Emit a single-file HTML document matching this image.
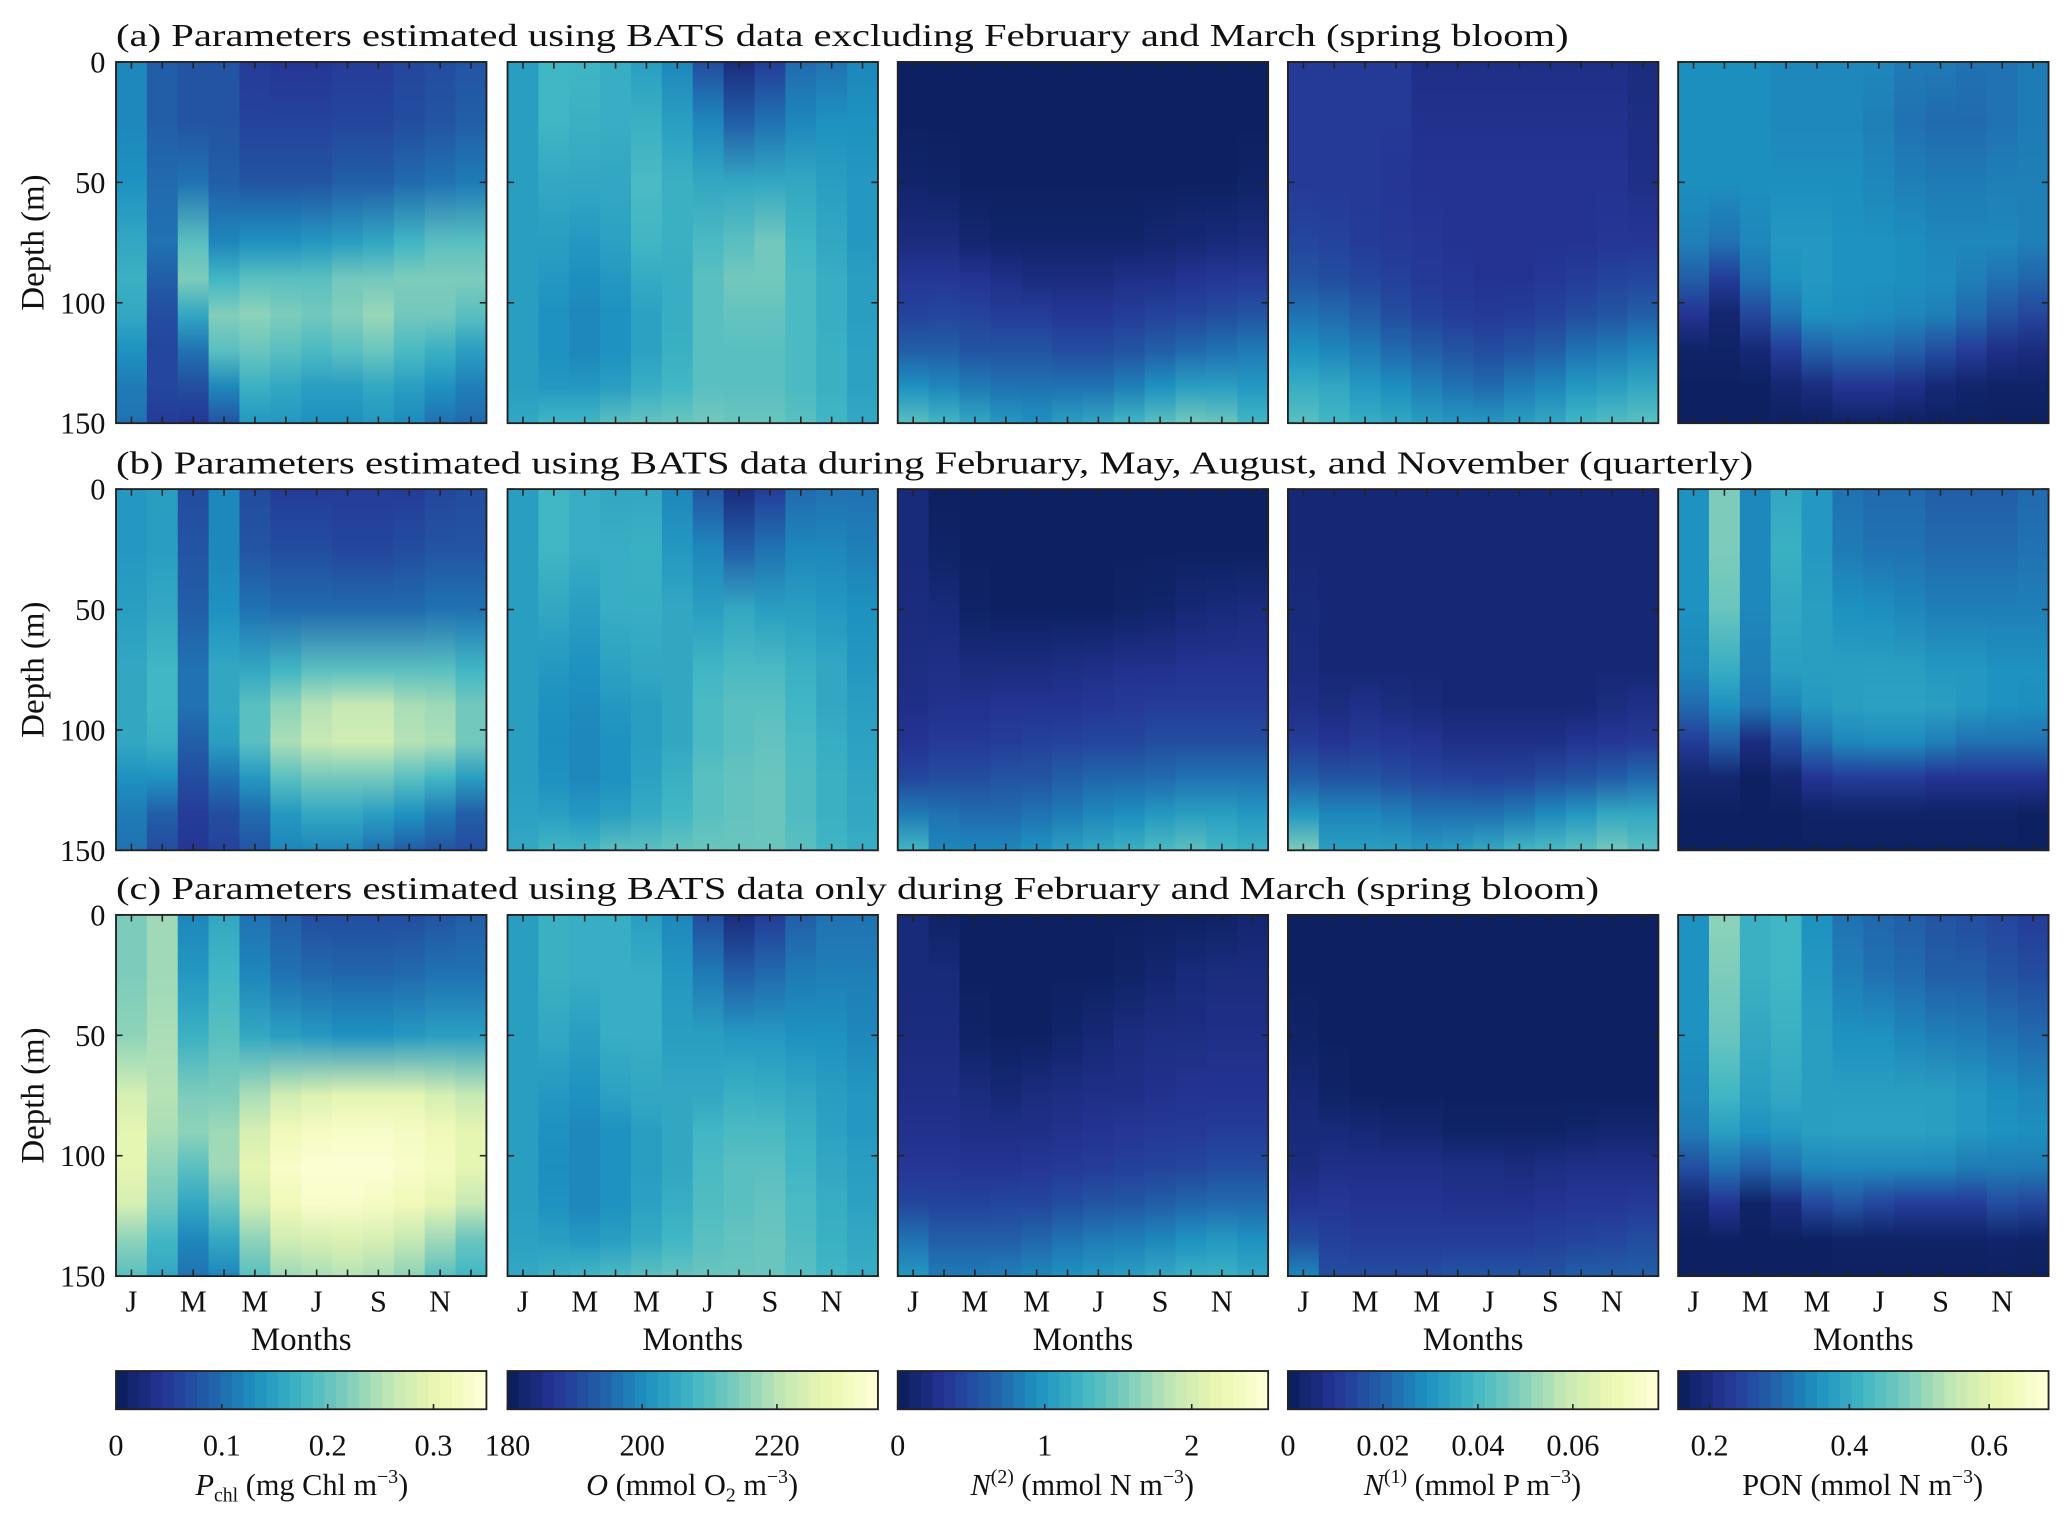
<!DOCTYPE html>
<html><head><meta charset="utf-8"><style>
html,body{margin:0;padding:0;background:#fff;}
svg{display:block;font-family:"Liberation Serif",serif;}
</style></head><body>
<svg id="fig" width="2067" height="1520" viewBox="0 0 1568 1153" preserveAspectRatio="none" xmlns="http://www.w3.org/2000/svg">
<defs id="defs"></defs>
<rect x="0" y="0" width="1568" height="1153" fill="#fff"/>
</svg>
<script>
// ---- data: normalized colour-scale position (0 = colorbar min, 1 = colorbar max) ----
const months = ['J','F','M','A','M','J','J','A','S','O','N','D'];
const monthTickLabels = ['J','','M','','M','','J','','S','','N',''];
const depths = [0,25,50,75,90,105,120,135,150];
const depthTicks = [0,50,100,150];

const pchlA = [
[.35,.25,.22,.22,.15,.13,.13,.15,.15,.18,.2,.22],
[.35,.25,.22,.22,.17,.17,.17,.18,.18,.2,.22,.25],
[.38,.28,.3,.25,.22,.22,.22,.25,.25,.28,.3,.32],
[.45,.3,.55,.35,.38,.38,.4,.42,.45,.5,.55,.55],
[.48,.25,.62,.5,.55,.55,.55,.6,.6,.62,.62,.62],
[.45,.2,.45,.63,.65,.62,.6,.63,.67,.6,.6,.55],
[.38,.18,.3,.55,.58,.55,.52,.55,.58,.52,.48,.42],
[.32,.18,.2,.35,.48,.45,.42,.42,.45,.42,.38,.33],
[.3,.15,.13,.22,.4,.4,.38,.38,.4,.36,.3,.28]];
const oxyA = [
[.42,.5,.5,.47,.42,.35,.2,.08,.15,.28,.3,.35],
[.42,.5,.48,.47,.48,.42,.35,.25,.3,.35,.38,.38],
[.42,.45,.45,.45,.52,.48,.45,.45,.45,.45,.42,.4],
[.42,.42,.4,.43,.5,.48,.52,.55,.6,.5,.45,.4],
[.42,.4,.37,.4,.46,.47,.55,.6,.6,.52,.47,.42],
[.42,.38,.35,.38,.43,.47,.55,.57,.57,.52,.47,.42],
[.42,.38,.35,.38,.43,.48,.55,.55,.55,.52,.48,.43],
[.42,.4,.4,.42,.47,.5,.55,.55,.55,.52,.48,.43],
[.45,.5,.5,.55,.57,.58,.6,.58,.58,.55,.5,.45]];
const nitA = [
[.02,.02,.02,.02,.02,.02,.02,.02,.02,.02,.02,.02],
[.02,.02,.02,.02,.02,.02,.02,.02,.02,.02,.02,.02],
[.04,.03,.02,.02,.02,.02,.02,.02,.02,.02,.02,.03],
[.08,.08,.05,.04,.04,.04,.04,.04,.05,.06,.07,.08],
[.13,.13,.12,.1,.08,.08,.08,.1,.1,.12,.13,.14],
[.17,.18,.17,.15,.15,.13,.13,.15,.17,.18,.2,.22],
[.25,.25,.22,.22,.22,.2,.2,.22,.25,.28,.3,.32],
[.38,.35,.32,.3,.3,.3,.3,.33,.38,.42,.42,.4],
[.55,.5,.45,.4,.38,.42,.45,.5,.55,.6,.58,.5]];
const phosA = [
[.14,.14,.14,.14,.1,.1,.1,.1,.1,.1,.1,.08],
[.14,.14,.14,.14,.11,.11,.11,.11,.11,.11,.11,.09],
[.14,.14,.14,.13,.12,.12,.12,.12,.12,.12,.12,.1],
[.18,.17,.15,.14,.13,.12,.12,.12,.12,.12,.13,.13],
[.22,.2,.18,.16,.14,.13,.12,.12,.13,.15,.17,.18],
[.3,.28,.25,.2,.17,.15,.14,.15,.17,.2,.22,.25],
[.38,.35,.32,.28,.25,.22,.2,.22,.25,.3,.32,.35],
[.47,.45,.4,.37,.33,.3,.28,.32,.35,.4,.42,.45],
[.55,.5,.47,.45,.42,.4,.4,.42,.45,.5,.53,.55]];
const ponA = [
[.37,.37,.37,.35,.35,.35,.35,.32,.32,.3,.3,.32],
[.37,.37,.37,.35,.35,.35,.33,.3,.28,.28,.3,.32],
[.37,.37,.37,.37,.37,.37,.35,.33,.32,.32,.33,.33],
[.33,.3,.35,.4,.4,.38,.38,.37,.35,.35,.35,.33],
[.25,.15,.3,.38,.4,.38,.38,.37,.36,.33,.3,.27],
[.12,.05,.18,.3,.38,.37,.36,.35,.33,.28,.22,.18],
[.03,.03,.06,.15,.25,.28,.28,.25,.2,.15,.1,.08],
[.02,.02,.02,.05,.08,.12,.12,.1,.06,.04,.03,.03],
[.02,.02,.02,.02,.02,.03,.03,.02,.02,.02,.02,.02]];

const pchlB = [
[.4,.42,.2,.35,.2,.15,.15,.15,.15,.15,.18,.2],
[.4,.42,.22,.35,.22,.2,.2,.18,.18,.2,.22,.22],
[.42,.45,.25,.38,.3,.28,.28,.28,.28,.28,.3,.3],
[.45,.5,.3,.45,.45,.5,.55,.55,.55,.55,.55,.5],
[.45,.5,.3,.45,.55,.65,.72,.75,.75,.7,.68,.6],
[.45,.48,.25,.42,.55,.7,.75,.78,.78,.72,.7,.6],
[.38,.38,.2,.3,.4,.55,.6,.6,.6,.55,.5,.42],
[.32,.25,.15,.2,.28,.4,.45,.45,.42,.38,.32,.25],
[.3,.2,.13,.17,.22,.35,.35,.35,.3,.25,.22,.2]];
const oxyB = [
[.42,.5,.47,.45,.45,.35,.22,.08,.15,.28,.3,.3],
[.42,.5,.47,.47,.48,.4,.35,.25,.3,.35,.35,.33],
[.42,.45,.42,.47,.47,.45,.42,.45,.42,.42,.4,.38],
[.42,.4,.38,.43,.45,.45,.5,.52,.52,.48,.45,.4],
[.42,.38,.36,.4,.42,.45,.52,.55,.55,.5,.45,.42],
[.42,.37,.35,.38,.42,.45,.52,.55,.57,.52,.47,.43],
[.42,.38,.35,.38,.43,.48,.55,.57,.58,.53,.48,.44],
[.43,.42,.4,.42,.46,.5,.55,.57,.58,.53,.48,.45],
[.45,.5,.5,.55,.55,.57,.58,.58,.58,.55,.5,.47]];
const nitB = [
[.07,.02,.02,.02,.02,.02,.02,.02,.02,.02,.02,.02],
[.07,.03,.02,.02,.02,.02,.02,.02,.02,.02,.02,.02],
[.08,.07,.03,.02,.02,.02,.02,.03,.04,.06,.07,.08],
[.09,.1,.08,.08,.08,.09,.1,.11,.11,.12,.12,.12],
[.1,.11,.11,.12,.12,.12,.13,.14,.15,.15,.15,.15],
[.12,.14,.14,.15,.16,.17,.18,.18,.2,.2,.2,.2],
[.18,.2,.2,.22,.22,.25,.27,.27,.28,.3,.3,.3],
[.32,.3,.28,.28,.3,.32,.35,.37,.4,.42,.42,.4],
[.5,.35,.35,.35,.38,.42,.45,.48,.52,.55,.5,.48]];
const phosB = [
[.06,.06,.06,.06,.06,.06,.06,.06,.06,.06,.06,.06],
[.06,.06,.06,.06,.06,.06,.06,.06,.06,.06,.06,.06],
[.07,.06,.06,.06,.06,.06,.06,.06,.06,.06,.06,.06],
[.08,.06,.06,.06,.06,.06,.06,.06,.06,.06,.06,.06],
[.1,.08,.1,.08,.07,.06,.06,.06,.06,.06,.08,.1],
[.15,.12,.14,.13,.12,.1,.1,.1,.1,.12,.13,.14],
[.25,.22,.22,.2,.18,.17,.16,.17,.2,.22,.25,.28],
[.4,.35,.35,.33,.3,.3,.3,.32,.36,.4,.45,.45],
[.62,.42,.42,.42,.4,.42,.45,.5,.52,.55,.6,.55]];
const ponB = [
[.38,.62,.35,.45,.4,.3,.28,.28,.25,.25,.25,.28],
[.38,.62,.35,.48,.4,.32,.3,.3,.28,.28,.28,.3],
[.38,.58,.35,.45,.42,.38,.37,.35,.33,.33,.33,.33],
[.35,.47,.33,.42,.42,.42,.42,.42,.4,.4,.38,.38],
[.28,.38,.3,.35,.4,.42,.43,.43,.42,.4,.38,.37],
[.15,.25,.08,.2,.3,.35,.36,.36,.33,.3,.3,.3],
[.05,.05,.02,.05,.12,.15,.15,.15,.12,.12,.12,.12],
[.02,.02,.02,.02,.03,.03,.03,.03,.03,.03,.03,.02],
[.02,.02,.02,.02,.02,.02,.02,.02,.02,.02,.02,.02]];

const pchlC = [
[.62,.68,.35,.45,.3,.25,.2,.2,.2,.2,.22,.25],
[.62,.68,.4,.5,.35,.3,.28,.27,.27,.28,.3,.3],
[.65,.7,.48,.55,.45,.42,.4,.38,.38,.4,.42,.42],
[.8,.72,.62,.62,.7,.78,.82,.85,.85,.85,.8,.75],
[.85,.7,.65,.68,.8,.9,.93,.95,.95,.93,.9,.85],
[.85,.65,.55,.68,.85,.95,.98,.98,.98,.95,.92,.85],
[.8,.6,.45,.58,.78,.9,.95,.95,.93,.9,.85,.75],
[.65,.5,.35,.45,.65,.78,.8,.82,.8,.75,.68,.58],
[.55,.45,.3,.35,.55,.68,.7,.72,.7,.65,.55,.5]];
const oxyC = [
[.42,.48,.47,.47,.42,.35,.2,.08,.15,.25,.3,.3],
[.42,.48,.47,.47,.47,.4,.32,.25,.28,.32,.33,.33],
[.42,.45,.42,.47,.47,.42,.42,.4,.4,.38,.38,.35],
[.42,.4,.38,.43,.45,.45,.45,.48,.47,.45,.42,.4],
[.42,.38,.35,.38,.42,.45,.5,.52,.52,.48,.43,.4],
[.42,.37,.35,.38,.42,.45,.52,.55,.55,.5,.45,.42],
[.42,.38,.35,.38,.43,.47,.53,.55,.57,.52,.47,.43],
[.43,.42,.4,.42,.46,.5,.55,.57,.58,.53,.48,.45],
[.45,.48,.5,.52,.55,.57,.58,.58,.58,.55,.5,.47]];
const nitC = [
[.07,.03,.02,.02,.02,.02,.02,.02,.02,.02,.03,.05],
[.07,.07,.02,.02,.02,.02,.02,.03,.05,.07,.08,.08],
[.08,.08,.03,.02,.02,.04,.06,.08,.09,.09,.1,.1],
[.1,.1,.08,.06,.08,.09,.1,.1,.11,.12,.12,.12],
[.11,.11,.1,.1,.1,.11,.12,.13,.14,.14,.15,.15],
[.13,.13,.12,.12,.13,.14,.15,.16,.17,.18,.2,.2],
[.18,.17,.17,.18,.18,.2,.22,.23,.25,.27,.28,.28],
[.3,.25,.25,.25,.27,.3,.32,.33,.35,.38,.4,.38],
[.4,.32,.32,.33,.35,.38,.4,.42,.45,.48,.48,.45]];
const phosC = [
[.02,.02,.02,.02,.02,.02,.02,.02,.02,.02,.02,.02],
[.02,.02,.02,.02,.02,.02,.02,.02,.02,.02,.02,.02],
[.03,.02,.02,.02,.02,.02,.02,.02,.02,.02,.02,.02],
[.06,.03,.02,.02,.02,.02,.02,.02,.02,.02,.02,.02],
[.07,.07,.06,.05,.05,.03,.03,.03,.03,.04,.05,.05],
[.08,.1,.1,.1,.1,.09,.09,.08,.09,.1,.1,.1],
[.12,.13,.12,.12,.12,.11,.11,.11,.12,.13,.13,.14],
[.2,.16,.15,.15,.15,.15,.15,.15,.16,.17,.18,.2],
[.35,.2,.2,.2,.2,.22,.22,.22,.22,.25,.25,.25]];
const ponC = [
[.38,.65,.48,.5,.38,.3,.27,.25,.22,.2,.18,.15],
[.38,.62,.48,.5,.4,.33,.3,.28,.25,.25,.22,.2],
[.38,.58,.45,.48,.42,.38,.38,.35,.33,.32,.3,.28],
[.35,.5,.42,.45,.42,.42,.42,.42,.42,.4,.37,.35],
[.32,.42,.38,.4,.42,.43,.43,.43,.42,.4,.38,.37],
[.2,.3,.25,.3,.35,.35,.35,.35,.35,.32,.32,.32],
[.05,.12,.03,.08,.18,.22,.18,.15,.15,.15,.2,.18],
[.02,.02,.02,.02,.02,.03,.03,.03,.03,.03,.04,.03],
[.02,.02,.02,.02,.02,.02,.02,.02,.02,.02,.02,.02]];

// colorbar domains and ticks
const cbMin = [0, 180, 0, 0, 0.155];
const cbMax = [0.35, 235, 2.52, 0.078, 0.685];
const cbTicks = [[0,0.1,0.2,0.3],[180,200,220],[0,1,2],[0,0.02,0.04,0.06],[0.2,0.4,0.6]];
const cbTickLabels = [['0','0.1','0.2','0.3'],['180','200','220'],['0','1','2'],['0','0.02','0.04','0.06'],['0.2','0.4','0.6']];

const rowTitles = [
 '(a) Parameters estimated using BATS data excluding February and March (spring bloom)',
 '(b) Parameters estimated using BATS data during February, May, August, and November (quarterly)',
 '(c) Parameters estimated using BATS data only during February and March (spring bloom)'];
const grid = [[pchlA,oxyA,nitA,phosA,ponA],[pchlB,oxyB,nitB,phosB,ponB],[pchlC,oxyC,nitC,phosC,ponC]];
const varKeys = ['pchl','oxygen','nitrate','phosphate','pon'];

// ---- layout ----
const colX = [88,385,681,977,1273];
const PW = 281, PH = 274;
const rowY = [47,371,694];
const titleW = [1102,1242,1125];
const cmap = ['#081d58','#253494','#225ea8','#1d91c0','#41b6c4','#7fcdbb','#c7e9b4','#edf8b1','#ffffd9'];

const NS='http://www.w3.org/2000/svg';
const svg=document.getElementById('fig');
const defs=document.getElementById('defs');
function mk(tag,attrs,parent){const e=document.createElementNS(NS,tag);for(const k in attrs)e.setAttribute(k,attrs[k]);(parent||svg).appendChild(e);return e;}
function hex(h){return [parseInt(h.slice(1,3),16),parseInt(h.slice(3,5),16),parseInt(h.slice(5,7),16)];}
function color(t){t=Math.max(0,Math.min(1,t));const p=t*(cmap.length-1);const i=Math.min(cmap.length-2,Math.floor(p));const f=p-i;const a=hex(cmap[i]),b=hex(cmap[i+1]);return 'rgb('+a.map((v,k)=>Math.round(v+(b[k]-v)*f)).join(',')+')';}
function xScale(c,m){return colX[c]+(m+0.5)*PW/12;}
function yScale(r,d){return rowY[r]+d/150*PH;}

const axisFont='font-size:23px;fill:#111;';
for(let r=0;r<3;r++){
  const t=mk('text',{x:88,y:rowY[r]-12,textLength:titleW[r],lengthAdjust:'spacingAndGlyphs',style:'font-size:24px;fill:#111;'});
  t.textContent=rowTitles[r];
  
  
  for(let c=0;c<5;c++){
    const data=grid[r][c];
    const g=mk('g',{});
    
    
    for(let m=0;m<12;m++){
      const id='gr'+r+'_'+c+'_'+m;
      const lg=mk('linearGradient',{id:id,x1:0,y1:0,x2:0,y2:1},defs);
      for(let k=0;k<depths.length;k++){
        mk('stop',{offset:depths[k]/150,'stop-color':color(data[k][m])},lg);
      }
      const x0=colX[c]+m*PW/12;
      const cell=mk('rect',{x:x0,y:rowY[r],width:PW/12+0.6,height:PH,fill:'url(#'+id+')'},g);
      
      
    }
    const fr=mk('rect',{x:colX[c],y:rowY[r],width:PW,height:PH,fill:'none',stroke:'#222','stroke-width':1.4},g);
    
    
    for(let m=0;m<12;m++){
      const x=xScale(c,m);
      mk('line',{x1:x,x2:x,y1:rowY[r],y2:rowY[r]+5,stroke:'#222','stroke-width':1.2},g);
      mk('line',{x1:x,x2:x,y1:rowY[r]+PH,y2:rowY[r]+PH-5,stroke:'#222','stroke-width':1.2},g);
    }
    for(const d of depthTicks){
      const y=yScale(r,d);
      mk('line',{x1:colX[c],x2:colX[c]+5,y1:y,y2:y,stroke:'#222','stroke-width':1.2},g);
      mk('line',{x1:colX[c]+PW,x2:colX[c]+PW-5,y1:y,y2:y,stroke:'#222','stroke-width':1.2},g);
    }
    if(r===2){
      for(let m=0;m<12;m++){
        if(!monthTickLabels[m])continue;
        const tl=mk('text',{x:xScale(c,m),y:995,'text-anchor':'middle',style:axisFont});
        tl.textContent=monthTickLabels[m];
        
        
      }
      const xt=mk('text',{x:colX[c]+PW/2,y:1024,'text-anchor':'middle',style:'font-size:25px;fill:#111;'});
      xt.textContent='Months';
      
      
    }
  }
  for(const d of depthTicks){
    const yl=mk('text',{x:80,y:yScale(r,d)+8,'text-anchor':'end',style:axisFont});
    yl.textContent=String(d);
    
    
  }
  const yt=mk('text',{x:0,y:0,'text-anchor':'middle',transform:'translate(33,'+(rowY[r]+PH/2)+') rotate(-90)',style:'font-size:25px;fill:#111;'});
  yt.textContent='Depth (m)';
  
  
}

// colorbars
const cbY=1040, cbH=29, steps=32;
for(let c=0;c<5;c++){
  const g=mk('g',{});
  
  
  for(let s=0;s<steps;s++){
    mk('rect',{x:colX[c]+s*PW/steps,y:cbY,width:PW/steps+0.6,height:cbH,fill:color((s+0.5)/steps)},g);
  }
  mk('rect',{x:colX[c],y:cbY,width:PW,height:cbH,fill:'none',stroke:'#222','stroke-width':1.4},g);
  cbTicks[c].forEach((v,i)=>{
    const x=colX[c]+(v-cbMin[c])/(cbMax[c]-cbMin[c])*PW;
    mk('line',{x1:x,x2:x,y1:cbY+cbH,y2:cbY+cbH-4,stroke:'#222','stroke-width':1.2},g);
    const tl=mk('text',{x:x,y:1104,'text-anchor':'middle',style:axisFont});
    tl.textContent=cbTickLabels[c][i];
    
    
  });
}
</script>
<svg width="2067" height="1520" viewBox="0 0 1568 1153" preserveAspectRatio="none" style="position:absolute;left:0;top:0;font-family:'Liberation Serif',serif;font-size:23px;fill:#111;">
<text x="229" y="1134" text-anchor="middle"><tspan font-style="italic">P</tspan><tspan font-size="15" dy="5">chl</tspan><tspan dy="-5"> (mg Chl m</tspan><tspan font-size="15" dy="-9">−3</tspan><tspan dy="9">)</tspan></text>
<text x="525" y="1134" text-anchor="middle"><tspan font-style="italic">O</tspan><tspan> (mmol O</tspan><tspan font-size="15" dy="5">2</tspan><tspan dy="-5"> m</tspan><tspan font-size="15" dy="-9">−3</tspan><tspan dy="9">)</tspan></text>
<text x="821" y="1134" text-anchor="middle"><tspan font-style="italic">N</tspan><tspan font-size="15" dy="-9">(2)</tspan><tspan dy="9"> (mmol N m</tspan><tspan font-size="15" dy="-9">−3</tspan><tspan dy="9">)</tspan></text>
<text x="1117" y="1134" text-anchor="middle"><tspan font-style="italic">N</tspan><tspan font-size="15" dy="-9">(1)</tspan><tspan dy="9"> (mmol P m</tspan><tspan font-size="15" dy="-9">−3</tspan><tspan dy="9">)</tspan></text>
<text x="1413" y="1134" text-anchor="middle"><tspan>PON (mmol N m</tspan><tspan font-size="15" dy="-9">−3</tspan><tspan dy="9">)</tspan></text>
</svg>
</body></html>
